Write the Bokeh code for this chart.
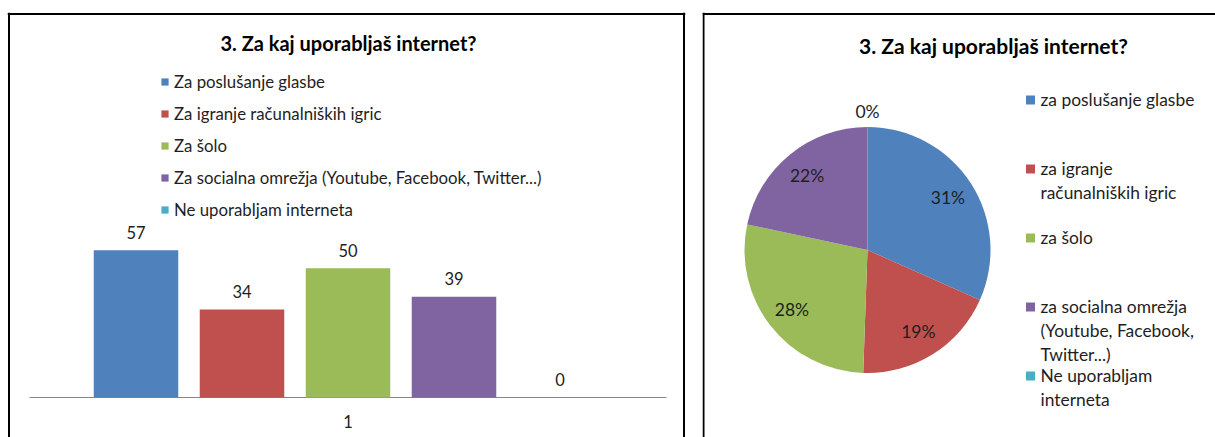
import math
from bokeh.plotting import figure
from bokeh.layouts import row
from bokeh.models import Range1d, Legend, LegendItem, ColumnDataSource, Span
from bokeh.core.properties import value
from bokeh.embed import file_html
from bokeh.resources import INLINE

# ---------------- data ----------------
TITLE = "3. Za kaj uporabljaš internet?"
CATEGORIES = ["1"]
BAR_SERIES = ["Za poslušanje glasbe", "Za igranje računalniških igric", "Za šolo",
              "Za socialna omrežja (Youtube, Facebook, Twitter...)", "Ne uporabljam interneta"]
BAR_VALUES = [57, 34, 50, 39, 0]
PIE_SERIES = ["za poslušanje glasbe", "za igranje\nračunalniških igric", "za šolo",
              "za socialna omrežja\n(Youtube, Facebook,\nTwitter...)", "Ne uporabljam\ninterneta"]
PIE_VALUES = [57, 34, 50, 39, 0]
PIE_LABELS = ["31%", "19%", "28%", "22%", "0%"]
COLORS = ["#4F81BD", "#C0504D", "#9BBB59", "#8064A2", "#4BACC6"]

FONT = "Lato"
H = 437
TXT = "#1e1e1e"


def border(p, left=None, right=None, top=None):
    # panel border: only the edges that are visible in the window
    for loc in (left, right):
        if loc is not None:
            p.add_layout(Span(location=loc, dimension="height", line_color="black", line_width=2))
    if top is not None:
        p.add_layout(Span(location=top, dimension="width", line_color="black", line_width=2))


# ---------------- left: column chart ----------------
PPU = 2.585           # px per value unit
PPX = 637.0           # px per category band
FRAME_W = 678
fr_top, fr_bot, base = 12, 437, 397
xl0 = 0.5 - (29 - 7) / PPX
xl1 = xl0 + FRAME_W / PPX
yl0 = -(fr_bot - base) / PPU
yl1 = (base - fr_top) / PPU

p1 = figure(width=702, height=H, x_range=Range1d(xl0, xl1), y_range=Range1d(yl0, yl1),
            x_axis_type=None, y_axis_type=None, toolbar_location=None, output_backend="svg",
            min_border_left=7, min_border_right=702 - 7 - FRAME_W, min_border_top=fr_top,
            min_border_bottom=0)
p1.grid.visible = False
p1.outline_line_color = None
p1.background_fill_color = "white"
p1.border_fill_color = "white"
border(p1, left=xl0 + 1.5 / PPX, right=xl1 - 1.5 / PPX, top=yl1 - 1.5 / PPU)

n = len(BAR_SERIES)
step, bw = 0.1664, 0.1327
items = []
for ci, cat in enumerate(CATEGORIES):
    cx = ci + 1
    # baseline of the category axis
    p1.segment(x0=[cx - 0.5], y0=[0], x1=[cx + 0.5], y1=[0], line_color="#868686", line_width=1.2)
    p1.text(x=[cx], y=[-24 / PPU], text=[cat], text_font=value(FONT), text_font_size="16.5px",
            text_align="center", text_baseline="middle", text_color=TXT)
    for i, (s, v) in enumerate(zip(BAR_SERIES, BAR_VALUES)):
        x = cx + (i - (n - 1) / 2) * step
        r = p1.vbar(x=[x], top=[v], bottom=0, width=bw, fill_color=COLORS[i], line_color=None)
        items.append(LegendItem(label=s, renderers=[r]))
        p1.text(x=[x], y=[v + 18 / PPU], text=[str(v)], text_font=value(FONT), text_font_size="16.5px",
                text_align="center", text_baseline="middle", text_color=TXT)

p1.text(x=[0.5 + (348 - 29) / PPX], y=[(base - 42) / PPU], text=[TITLE], text_font=value(FONT),
        text_font_size="20px", text_font_style="bold", text_align="center", text_baseline="middle",
        text_color="black")

leg = Legend(items=items, location=(153, 217), orientation="vertical", padding=0, margin=0,
             label_text_font=FONT, label_text_font_size="16.8px", label_text_color=TXT,
             glyph_width=9, glyph_height=9, label_height=21, spacing=11, label_standoff=5,
             border_line_color=None, background_fill_alpha=0)
p1.add_layout(leg)

# ---------------- right: pie chart ----------------
R = 123.0
cxp, cyp = 867, 249.5
RW = 1215 - 702
xr0 = -(cxp - 702) / R
xr1 = (1215 - cxp) / R
yr0 = -(fr_bot - cyp) / R
yr1 = (cyp - fr_top) / R

p2 = figure(width=RW, height=H, x_range=Range1d(xr0, xr1), y_range=Range1d(yr0, yr1),
            x_axis_type=None, y_axis_type=None, toolbar_location=None, output_backend="svg",
            min_border_left=0, min_border_right=0, min_border_top=fr_top, min_border_bottom=0)
p2.grid.visible = False
p2.outline_line_color = None
p2.background_fill_color = "white"
p2.border_fill_color = "white"
border(p2, left=xr0 + 1.0 / R, top=yr1 - 1.5 / R)

total = sum(PIE_VALUES)
cum = 0.0
starts, ends, cols, lx, ly = [], [], [], [], []
for v, c in zip(PIE_VALUES, COLORS):
    a0 = math.pi / 2 - 2 * math.pi * cum / total
    a1 = math.pi / 2 - 2 * math.pi * (cum + v) / total
    if v > 0:
        starts.append(a0)
        ends.append(a1)
        cols.append(c)
    mid = (a0 + a1) / 2
    rr = 0.78 if v > 0 else 1.13
    lx.append(rr * math.cos(mid))
    ly.append(rr * math.sin(mid))
    cum += v

src = ColumnDataSource(dict(start=starts, end=ends, color=cols))
p2.wedge(x=0, y=0, radius=1, start_angle="start", end_angle="end", direction="clock",
         fill_color="color", line_color=None, source=src)
p2.text(x=lx, y=ly, text=PIE_LABELS, text_font=value(FONT), text_font_size="17.5px",
        text_align="center", text_baseline="middle", text_color=TXT)

p2.text(x=[(993 - cxp) / R], y=[(cyp - 45) / R], text=[TITLE], text_font=value(FONT),
        text_font_size="21px", text_font_style="bold", text_align="center", text_baseline="middle",
        text_color="black")

# legend (multi-line entries, Excel style evenly spaced slots)
slot = 69.0
first = 99.5
sq_x = [(1030 - cxp) / R] * len(PIE_SERIES)
sq_y = [(cyp - (first + slot * i)) / R for i in range(len(PIE_SERIES))]
p2.scatter(x=sq_x, y=sq_y, marker="square", size=9, fill_color=COLORS, line_color=None)
tx = [(1040 - cxp) / R] * len(PIE_SERIES)
ty = [y + 11 / R for y in sq_y]
p2.text(x=tx, y=ty, text=PIE_SERIES, text_font=value(FONT), text_font_size="17.4px",
        text_align="left", text_baseline="top", text_line_height=1.15, text_color=TXT)

layout = row(p1, p2)
open("out.html", "w").write(file_html(layout, INLINE))
